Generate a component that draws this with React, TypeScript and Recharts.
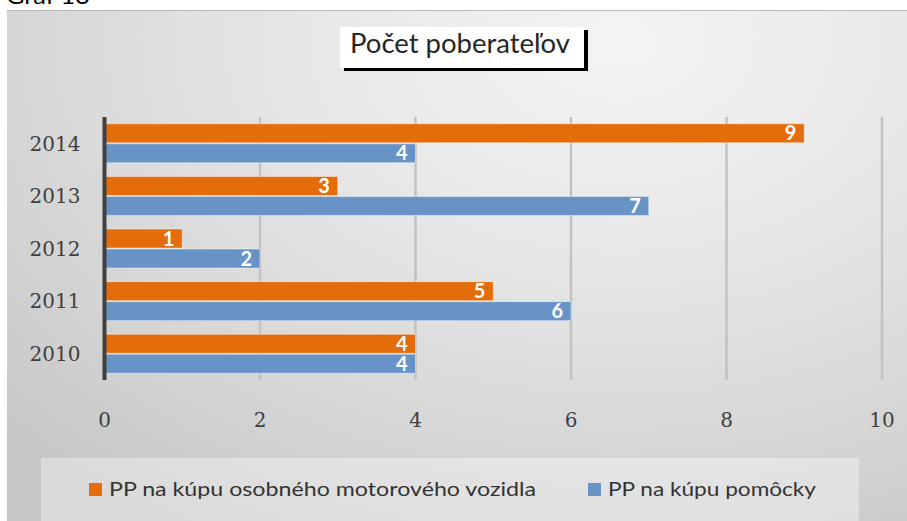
import React from 'react';
import { BarChart, Bar, XAxis, YAxis, CartesianGrid, LabelList } from 'recharts';

const years = ['2014', '2013', '2012', '2011', '2010'];
const vehicleValues = [9, 3, 1, 5, 4];
const aidValues = [4, 7, 2, 6, 4];
const xTicks = [0, 2, 4, 6, 8, 10];
const seriesNames = ['PP na kúpu osobného motorového vozidla', 'PP na kúpu pomôcky'];
const titleText = 'Počet poberateľov';
const captionText = 'Graf 13';

const ORANGE = '#E46C0A';
const BLUE = '#6893C6';

const data = years.map((y, i) => ({ year: y, vehicle: vehicleValues[i], aid: aidValues[i] }));

const XTick = (props: any) => {
  const { x, y, payload } = props;
  return (
    <text x={x} y={y} dy="0.71em" textAnchor="middle" fontFamily="DejaVu Serif" fontSize={20} fill="#404040">
      {payload.value}
    </text>
  );
};

const YTick = (props: any) => {
  const { x, y, payload } = props;
  return (
    <text x={x} y={y} dy="0.36em" textAnchor="end" fontFamily="DejaVu Serif" fontSize={20} fill="#404040">
      {payload.value}
    </text>
  );
};

export default function App() {
  return (
    <div style={{ position: 'absolute', left: 0, top: 0, width: 907, height: 521, overflow: 'hidden', background: '#ffffff' }}>
      <div
        style={{
          position: 'absolute',
          left: 7,
          top: 10,
          width: 900,
          height: 511,
          borderTop: '1px solid #b8b8b8',
          boxSizing: 'border-box',
          background:
            'radial-gradient(ellipse 95% 115% at 68% 6%, #f4f4f4 0%, #e8e8e8 35%, #d4d4d4 75%, #c6c6c6 100%)',
        }}
      />
      <div style={{ position: 'absolute', left: 7, top: 10 }}>
        <BarChart
          width={900}
          height={511}
          data={data}
          layout="vertical"
          margin={{ top: 107, right: 25, left: 0, bottom: 101 }}
          barCategoryGap="13%"
          barGap={1}
        >
          <CartesianGrid horizontal={false} vertical={true} stroke="#c2c2c2" strokeWidth={2.5} />
          <XAxis
            type="number"
            domain={[0, 10]}
            ticks={xTicks}
            axisLine={false}
            tickLine={false}
            tickSize={0}
            tickMargin={33}
            height={40}
            tick={<XTick />}
            interval={0}
          />
          <YAxis
            type="category"
            dataKey="year"
            width={97.5}
            axisLine={{ stroke: '#404040', strokeWidth: 4 }}
            tickLine={false}
            tickSize={0}
            tickMargin={24}
            tick={<YTick />}
          />
          <Bar dataKey="vehicle" name={seriesNames[0]} fill={ORANGE} stroke="rgba(255,255,255,0.45)" strokeWidth={1} isAnimationActive={false}>
            <LabelList dataKey="vehicle" position="insideRight" offset={8} fill="#ffffff" fontFamily="Lato" fontWeight="bold" fontSize={20} />
          </Bar>
          <Bar dataKey="aid" name={seriesNames[1]} fill={BLUE} stroke="rgba(255,255,255,0.45)" strokeWidth={1} isAnimationActive={false}>
            <LabelList dataKey="aid" position="insideRight" offset={8} fill="#ffffff" fontFamily="Lato" fontWeight="bold" fontSize={20} />
          </Bar>
        </BarChart>
      </div>
      <svg width={907} height={521} style={{ position: 'absolute', left: 0, top: 0, pointerEvents: 'none' }}>
        <text x={6} y={4} fontFamily="Lato" fontSize={24} fill="#000" textLength={84} lengthAdjust="spacingAndGlyphs">
          {captionText}
        </text>
        <rect x={344} y={30} width={244} height={41} fill="#000" />
        <rect x={340} y={27} width={244} height={41} fill="#ffffff" />
        <text x={350} y={53} fontFamily="Lato" fontSize={27} fill="#262626" textLength={220} lengthAdjust="spacingAndGlyphs">
          {titleText}
        </text>
        <rect x={41} y={458} width={818} height={70} fill="rgba(255,255,255,0.35)" />
        <rect x={89} y={483} width={13} height={13} fill={ORANGE} />
        <text x={109} y={496} fontFamily="Lato" fontSize={19} fill="#333" textLength={427} lengthAdjust="spacingAndGlyphs">
          {seriesNames[0]}
        </text>
        <rect x={588} y={483} width={13} height={13} fill={BLUE} />
        <text x={608} y={496} fontFamily="Lato" fontSize={19} fill="#333" textLength={208} lengthAdjust="spacingAndGlyphs">
          {seriesNames[1]}
        </text>
      </svg>
    </div>
  );
}
